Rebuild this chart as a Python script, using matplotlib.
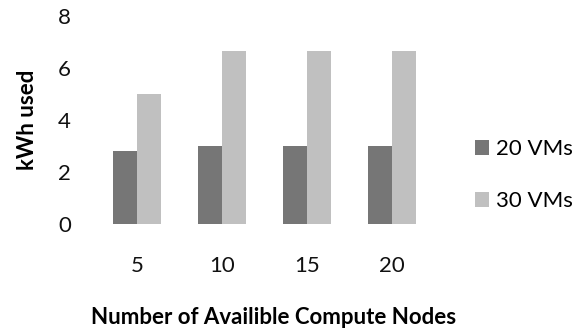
import numpy as np
import matplotlib.pyplot as plt

plt.rcParams['font.family'] = ['Lato', 'DejaVu Sans']

# Energy used per cluster size
nodes = ['5', '10', '15', '20']
kwh_20vms = [2.8, 3.0, 3.0, 3.0]
kwh_30vms = [5.0, 6.65, 6.65, 6.65]

fig = plt.figure(figsize=(5.81, 3.33), dpi=100)
ax = fig.add_axes([0.1627, 0.327, 0.585, 0.625])

x = np.arange(len(nodes))
w = 0.282
ax.bar(x - w / 2, kwh_20vms, width=w, color='#767676', label='20 VMs')
ax.bar(x + w / 2, kwh_30vms, width=w, color='#c0c0c0', label='30 VMs')

ax.set_xlim(-0.5, len(nodes) - 0.5)
ax.set_ylim(0, 8)
ax.set_yticks([0, 2, 4, 6, 8])
ax.set_xticks(x)
ax.set_xticklabels(nodes)
ax.tick_params(axis='both', length=0, labelsize=16, colors='#111111')
ax.tick_params(axis='y', pad=17)
ax.tick_params(axis='x', pad=23)
for s in ax.spines.values():
    s.set_visible(False)

ax.set_ylabel('kWh used', fontsize=16, fontweight='bold')
ax.yaxis.set_label_coords(-0.165, 0.5)
ax.set_xlabel('Number of Availible Compute Nodes', fontsize=16, fontweight='bold')
ax.xaxis.set_label_coords(0.528, -0.40)

ax.legend(loc='center left', bbox_to_anchor=(1.06, 0.235), frameon=False,
          fontsize=16, handlelength=0.65, handleheight=0.65, handletextpad=0.3,
          labelspacing=1.45)

fig.savefig('out.png', dpi=100)
